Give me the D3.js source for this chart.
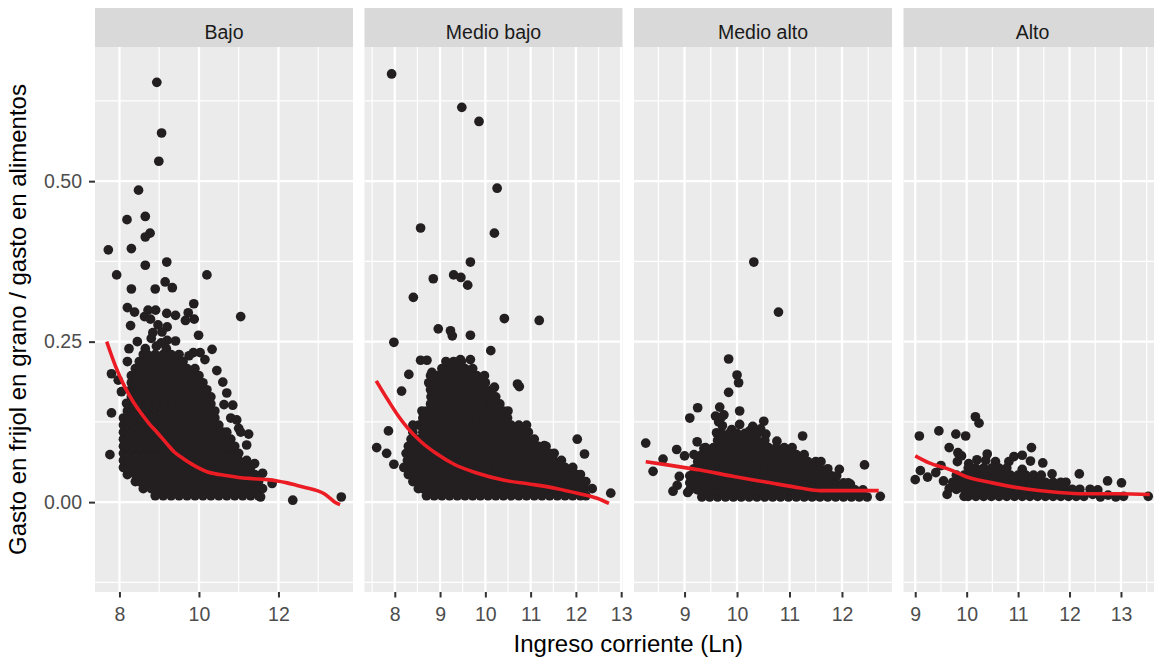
<!DOCTYPE html>
<html>
<head>
<meta charset="utf-8">
<script src="https://cdn.jsdelivr.net/npm/d3@7"></script>
<style>
  body { margin: 0; background: #fff; }
  svg { display: block; font-family: "Liberation Sans", Arial, Helvetica, sans-serif; }
</style>
</head>
<body>
<script>
// facet names
const panelNames = ["Bajo", "Medio bajo", "Medio alto", "Alto"];

// scattered points [ln income, share]
const bajoPts = [[8.94,0.654],[9.06,0.575],[8.99,0.531],[8.48,0.486],[8.19,0.440],[8.65,0.445],[8.77,0.419],[8.65,0.413],
  [7.72,0.393],[8.30,0.395],[8.65,0.369],[9.19,0.374],[7.93,0.354],[10.20,0.354],[8.30,0.332],[8.90,0.332],[9.15,0.343],
  [9.33,0.334],[9.87,0.309],[8.20,0.303],[8.38,0.296],[8.72,0.299],[8.91,0.299],[8.63,0.289],[8.78,0.285],[9.19,0.294],
  [9.41,0.291],[9.73,0.295],[9.66,0.283],[9.88,0.285],[11.05,0.289],[8.28,0.275],[8.97,0.276],[9.20,0.273],[8.84,0.264],
  [9.07,0.265],[9.20,0.252],[9.41,0.251],[9.99,0.260],[10.33,0.238],[9.86,0.233],[10.03,0.233],[8.24,0.239],[8.65,0.239],
  [8.93,0.243],[9.18,0.239],[8.45,0.250],[8.80,0.255],[9.05,0.248],[7.80,0.200],[7.97,0.190],[8.05,0.172],[7.80,0.139],
  [7.76,0.074],[8.18,0.154],[10.60,0.187],[10.63,0.152],[10.80,0.131],[11.00,0.115],[11.25,0.106],[11.84,0.029],
  [12.36,0.003],[13.58,0.008],[11.55,0.008],[11.40,0.060],[11.60,0.045],[10.70,0.170],[10.85,0.151],[10.95,0.128],
  [11.05,0.109],[11.20,0.089],[10.45,0.205],[10.15,0.222],[9.75,0.228]];

// dense core of the cloud, row by row: [share, [ln income ...]]
const bajoRows = [
  [0.010, [8.9,9.1,9.3,9.5,9.7,9.9,10.1,10.3,10.5,10.7,10.9,11.1,11.3,11.5]],
  [0.021, [8.6,8.8,9.0,9.2,9.4,9.6,9.8,10.0,10.2,10.4,10.6,10.8,11.0,11.2,11.4,11.6]],
  [0.032, [8.4,8.5,8.7,8.9,9.1,9.3,9.5,9.7,9.9,10.1,10.3,10.5,10.7,10.9,11.1,11.3,11.5]],
  [0.043, [8.2,8.4,8.6,8.8,9.0,9.2,9.4,9.6,9.8,10.0,10.2,10.4,10.6,10.8,11.0,11.2,11.4]],
  [0.054, [8.1,8.3,8.5,8.7,8.9,9.1,9.3,9.5,9.7,9.9,10.1,10.3,10.5,10.7,10.9,11.1,11.3]],
  [0.065, [8.1,8.2,8.4,8.6,8.8,9.0,9.2,9.4,9.6,9.8,10.0,10.2,10.4,10.6,10.8,11.0,11.2]],
  [0.076, [8.1,8.3,8.5,8.7,8.9,9.1,9.3,9.5,9.7,9.9,10.1,10.3,10.5,10.7,10.9,11.0]],
  [0.087, [8.1,8.2,8.4,8.6,8.8,9.0,9.2,9.4,9.6,9.8,10.0,10.2,10.4,10.6,10.8,10.9]],
  [0.098, [8.1,8.3,8.5,8.7,8.9,9.1,9.3,9.5,9.7,9.9,10.1,10.3,10.5,10.7,10.8]],
  [0.109, [8.1,8.2,8.4,8.6,8.8,9.0,9.2,9.4,9.6,9.8,10.0,10.2,10.4,10.6,10.7]],
  [0.120, [8.1,8.3,8.5,8.7,8.9,9.1,9.3,9.5,9.7,9.9,10.1,10.3,10.5]],
  [0.131, [8.1,8.2,8.4,8.6,8.8,9.0,9.2,9.4,9.6,9.8,10.0,10.2,10.4]],
  [0.142, [8.2,8.3,8.5,8.7,8.9,9.1,9.3,9.5,9.7,9.9,10.1,10.3,10.4]],
  [0.153, [8.2,8.4,8.6,8.8,9.0,9.2,9.4,9.6,9.8,10.0,10.2,10.3]],
  [0.164, [8.3,8.5,8.7,8.9,9.1,9.3,9.5,9.7,9.9,10.1,10.3]],
  [0.175, [8.3,8.4,8.6,8.8,9.0,9.2,9.4,9.6,9.8,10.0,10.2]],
  [0.186, [8.3,8.5,8.7,8.9,9.1,9.3,9.5,9.7,9.9,10.1]],
  [0.197, [8.3,8.4,8.6,8.8,9.0,9.2,9.4,9.6,9.8,10.0]],
  [0.208, [8.4,8.5,8.7,8.9,9.1,9.3,9.5,9.7,9.9]],
  [0.219, [8.2,8.5,8.6,8.8,9.0,9.2,9.4,9.6]],
  [0.230, [8.6,8.7,8.9,9.1,9.3,9.5]]
];

const bajoSmooth = [[7.68,0.250],[7.90,0.212],[8.13,0.180],[8.35,0.156],[8.55,0.138],[8.75,0.122],[8.97,0.107],
  [9.18,0.092],[9.38,0.078],[9.60,0.068],[9.80,0.060],[10.00,0.053],[10.22,0.047],[10.42,0.044],[10.63,0.042],
  [10.85,0.040],[11.05,0.038],[11.27,0.037],[11.47,0.036],[11.72,0.035],[11.97,0.033],[12.22,0.030],[12.47,0.026],
  [12.72,0.022],[12.97,0.018],[13.15,0.013],[13.30,0.006],[13.42,0.000],[13.55,-0.004]];

const medioBajoPts = [[7.93,0.667],[9.48,0.615],[9.86,0.593],[10.26,0.489],[8.57,0.427],[10.20,0.419],[9.67,0.374],
  [8.85,0.348],[9.30,0.354],[9.46,0.350],[9.61,0.338],[8.41,0.319],[10.42,0.286],[11.19,0.283],[8.96,0.270],[9.23,0.267],
  [9.27,0.259],[9.67,0.260],[7.98,0.249],[10.12,0.236],[8.57,0.221],[8.71,0.221],[9.45,0.222],[9.67,0.222],[8.31,0.199],
  [8.82,0.202],[8.15,0.173],[8.60,0.142],[7.86,0.111],[7.60,0.085],[7.82,0.076],[7.98,0.059],[10.20,0.179],[10.71,0.184],
  [10.75,0.180],[12.03,0.098],[12.19,0.075],[12.77,0.014],[11.30,0.088],[11.04,0.093]];

const medioBajoRows = [
  [0.010, [8.70,8.87,9.04,9.21,9.38,9.55,9.72,9.89,10.06,10.23,10.40,10.57,10.74,10.91,11.08,11.25,11.42,11.59,11.76,11.93,12.10,12.22]],
  [0.021, [8.52,8.62,8.79,8.96,9.13,9.30,9.47,9.64,9.81,9.98,10.15,10.32,10.49,10.66,10.83,11.00,11.17,11.34,11.51,11.68,11.85,12.02,12.19,12.36]],
  [0.032, [8.40,8.53,8.70,8.87,9.04,9.21,9.38,9.55,9.72,9.89,10.06,10.23,10.40,10.57,10.74,10.91,11.08,11.25,11.42,11.59,11.76,11.93,12.10,12.22]],
  [0.043, [8.30,8.45,8.62,8.79,8.96,9.13,9.30,9.47,9.64,9.81,9.98,10.15,10.32,10.49,10.66,10.83,11.00,11.17,11.34,11.51,11.68,11.85,12.02,12.10]],
  [0.054, [8.20,8.36,8.53,8.70,8.87,9.04,9.21,9.38,9.55,9.72,9.89,10.06,10.23,10.40,10.57,10.74,10.91,11.08,11.25,11.42,11.59,11.76,11.93]],
  [0.065, [8.28,8.45,8.62,8.79,8.96,9.13,9.30,9.47,9.64,9.81,9.98,10.15,10.32,10.49,10.66,10.83,11.00,11.17,11.34,11.51,11.68]],
  [0.076, [8.25,8.36,8.53,8.70,8.87,9.04,9.21,9.38,9.55,9.72,9.89,10.06,10.23,10.40,10.57,10.74,10.91,11.08,11.25,11.42,11.52]],
  [0.087, [8.30,8.45,8.62,8.79,8.96,9.13,9.30,9.47,9.64,9.81,9.98,10.15,10.32,10.49,10.66,10.83,11.00,11.17,11.34]],
  [0.098, [8.36,8.53,8.70,8.87,9.04,9.21,9.38,9.55,9.72,9.89,10.06,10.23,10.40,10.57,10.74,10.91,11.08]],
  [0.109, [8.40,8.62,8.79,8.96,9.13,9.30,9.47,9.64,9.81,9.98,10.15,10.32,10.49,10.66,10.83,10.95]],
  [0.120, [8.40,8.53,8.70,8.87,9.04,9.21,9.38,9.55,9.72,9.89,10.06,10.23,10.40,10.57,10.74,10.91]],
  [0.131, [8.62,8.79,8.96,9.13,9.30,9.47,9.64,9.81,9.98,10.15,10.32,10.49]],
  [0.142, [8.70,8.87,9.04,9.21,9.38,9.55,9.72,9.89,10.06,10.23,10.40,10.50]],
  [0.153, [8.79,8.96,9.13,9.30,9.47,9.64,9.81,9.98,10.15,10.32]],
  [0.164, [8.80,8.87,9.04,9.21,9.38,9.55,9.72,9.89,10.06,10.23]],
  [0.175, [8.79,8.96,9.13,9.30,9.47,9.64,9.81,9.98,10.15]],
  [0.186, [8.75,8.87,9.04,9.21,9.38,9.55,9.72,9.89,10.00]],
  [0.197, [8.79,8.96,9.13,9.30,9.47,9.64,9.81,9.98]],
  [0.208, [9.04,9.21,9.38,9.55,9.72]],
  [0.219, [9.13,9.30,9.47]]
];

const medioBajoSmooth = [[7.59,0.189],[7.85,0.159],[8.07,0.135],[8.29,0.115],[8.58,0.094],[8.91,0.076],[9.31,0.059],
  [9.83,0.045],[10.42,0.034],[11.00,0.028],[11.59,0.021],[12.03,0.014],[12.47,0.006],[12.73,-0.002]];

const medioAltoPts = [[10.32,0.374],[10.79,0.296],[9.84,0.223],[10.00,0.198],[10.03,0.186],[9.84,0.171],[9.25,0.147],
  [9.10,0.131],[9.67,0.148],[9.59,0.134],[9.75,0.136],[10.05,0.142],[10.51,0.126],[10.05,0.121],[9.72,0.119],[10.24,0.111],
  [9.61,0.108],[8.26,0.092],[8.40,0.048],[8.59,0.067],[8.85,0.082],[9.00,0.072],[8.78,0.017],[8.90,0.040],[8.86,0.026],
  [9.06,0.015],[9.24,0.094],[9.37,0.084],[9.88,0.102],[10.03,0.101],[10.55,0.106],[10.76,0.095],[11.25,0.103],
  [11.95,0.051],[12.43,0.058],[12.73,0.009],[12.16,0.028],[11.72,0.038],[9.65,0.125],[9.70,0.132],[10.30,0.118],
  [10.45,0.114],[9.90,0.113]];

const medioAltoRows = [
  [0.008, [9.33,9.48,9.63,9.78,9.93,10.08,10.23,10.38,10.53,10.68,10.83,10.98,11.13,11.28,11.43,11.58,11.73,11.88,12.03,12.18,12.33,12.48]],
  [0.019, [9.10,9.25,9.40,9.55,9.70,9.85,10.00,10.15,10.30,10.45,10.60,10.75,10.90,11.05,11.20,11.35,11.50,11.65,11.80,11.95,12.10,12.25,12.40]],
  [0.030, [9.10,9.18,9.33,9.48,9.63,9.78,9.93,10.08,10.23,10.38,10.53,10.68,10.83,10.98,11.13,11.28,11.43,11.58,11.73,11.88,12.03,12.12]],
  [0.041, [9.10,9.25,9.40,9.55,9.70,9.85,10.00,10.15,10.30,10.45,10.60,10.75,10.90,11.05,11.20,11.35,11.50,11.65,11.80,11.90]],
  [0.052, [9.18,9.33,9.48,9.63,9.78,9.93,10.08,10.23,10.38,10.53,10.68,10.83,10.98,11.13,11.28,11.43,11.58,11.73]],
  [0.063, [9.25,9.40,9.55,9.70,9.85,10.00,10.15,10.30,10.45,10.60,10.75,10.90,11.05,11.20,11.35,11.50,11.60]],
  [0.074, [9.18,9.33,9.48,9.63,9.78,9.93,10.08,10.23,10.38,10.53,10.68,10.83,10.98,11.13,11.28]],
  [0.085, [9.40,9.55,9.70,9.85,10.00,10.15,10.30,10.45,10.60,10.75,10.90,11.05]],
  [0.096, [9.63,9.78,9.93,10.08,10.23,10.38,10.53]],
  [0.107, [9.70,9.85,10.00,10.15,10.30,10.40]]
];

const medioAltoSmooth = [[8.26,0.063],[8.67,0.058],[9.30,0.050],[9.94,0.040],[10.57,0.031],[11.21,0.022],
  [11.59,0.018],[12.16,0.018],[12.70,0.018]];

const altoPts = [[10.17,0.133],[10.24,0.123],[9.08,0.103],[9.46,0.111],[9.79,0.106],[9.98,0.103],[9.66,0.085],
  [9.83,0.077],[11.26,0.085],[11.48,0.061],[12.19,0.044],[12.74,0.033],[13.01,0.030],[13.53,0.009],[9.00,0.035],
  [9.10,0.049],[9.24,0.039],[9.50,0.057],[9.40,0.046],[9.55,0.033],[9.66,0.021],[9.82,0.063],[10.04,0.060],[10.20,0.066],
  [10.37,0.065],[10.56,0.063],[10.82,0.063],[10.92,0.071],[11.08,0.073],[11.24,0.064],[11.08,0.051],[11.66,0.044],
  [10.75,0.050],[10.62,0.046],[12.45,0.012],[12.60,0.008],[12.75,0.011],[12.90,0.008],[13.05,0.009],[12.40,0.020],
  [12.55,0.019],[9.62,0.012],[9.90,0.072],[10.40,0.075]];

const altoRows = [
  [0.009, [9.95,10.03,10.18,10.33,10.48,10.63,10.78,10.93,11.08,11.23,11.38,11.53,11.68,11.83,11.98,12.13,12.28]],
  [0.020, [9.80,9.95,10.10,10.25,10.40,10.55,10.70,10.85,11.00,11.15,11.30,11.45,11.60,11.75,11.90,12.05,12.20]],
  [0.031, [9.73,9.88,10.03,10.18,10.33,10.48,10.63,10.78,10.93,11.08,11.23,11.38,11.53,11.68,11.83,11.93]],
  [0.042, [9.80,9.95,10.10,10.25,10.40,10.55,10.70,10.85,11.00,11.15,11.30,11.45]],
  [0.053, [10.03,10.18,10.33,10.48,10.63,10.78]]
];

const altoSmooth = [[9.00,0.072],[9.27,0.061],[9.66,0.051],[9.98,0.040],[10.50,0.030],[10.95,0.023],[11.40,0.018],
  [11.79,0.015],[12.30,0.013],[12.95,0.013],[13.56,0.012]];

// axis breaks
const xTickSets = [[8, 10, 12], [8, 9, 10, 11, 12, 13], [9, 10, 11, 12], [9, 10, 11, 12, 13]];
const yTicks = [0, 0.25, 0.5];

const panelPts = [bajoPts, medioBajoPts, medioAltoPts, altoPts];
const panelRows = [bajoRows, medioBajoRows, medioAltoRows, altoRows];
const panelSmooth = [bajoSmooth, medioBajoSmooth, medioAltoSmooth, altoSmooth];

const W = 1154, H = 662;
const panelLeft = 95, panelW = 258, panelGap = 11.5;
const stripTop = 8, panelTop = 47, panelBottom = 592;
const fontTick = 19.5, fontTitle = 24;

const svg = d3.select("body").append("svg")
    .attr("width", W)
    .attr("height", H);

const y = d3.scaleLinear().domain([-0.14, 0.709]).range([panelBottom, panelTop]);

// minor breaks half way between majors, like ggplot does
function minorOf(ticks, domain) {
    let step = ticks[1] - ticks[0];
    let out = [];
    for (let i = -1; i < ticks.length; i++) {
        let m = (i < 0 ? ticks[0] - step / 2 : ticks[i] + step / 2);
        if (m >= domain[0] && m <= domain[1]) out.push(m);
    }
    return out;
}

const yMinor = minorOf(yTicks, y.domain());

panelNames.forEach(function(name, i) {

    let x0 = panelLeft + i * (panelW + panelGap);

    let pts = panelPts[i].slice();
    panelRows[i].forEach(function(r) {
        r[1].forEach(function(xv) { pts.push([xv, r[0]]); });
    });

    let ext = d3.extent(pts.concat(panelSmooth[i]), function(d) { return d[0]; });
    let pad = (ext[1] - ext[0]) * 0.05;
    let x = d3.scaleLinear().domain([ext[0] - pad, ext[1] + pad]).range([x0, x0 + panelW]);

    let g = svg.append("g").attr("class", "panel");

    // strip
    g.append("rect")
        .attr("x", x0).attr("y", stripTop)
        .attr("width", panelW).attr("height", panelTop - stripTop)
        .attr("fill", "#d9d9d9");
    g.append("text")
        .attr("x", x0 + panelW / 2)
        .attr("y", 38.5)
        .attr("text-anchor", "middle")
        .attr("font-size", fontTick)
        .attr("fill", "#1a1a1a")
        .text(name);

    // background
    g.append("rect")
        .attr("x", x0).attr("y", panelTop)
        .attr("width", panelW).attr("height", panelBottom - panelTop)
        .attr("fill", "#ebebeb");

    let clipId = "clip" + i;
    svg.append("clipPath").attr("id", clipId)
        .append("rect")
        .attr("x", x0).attr("y", panelTop)
        .attr("width", panelW).attr("height", panelBottom - panelTop);

    let grid = g.append("g").attr("clip-path", "url(#" + clipId + ")");
    let xMinor = minorOf(xTickSets[i], x.domain());

    grid.selectAll(".ymin").data(yMinor).enter().append("line")
        .attr("x1", x0).attr("x2", x0 + panelW)
        .attr("y1", function(d) { return y(d); }).attr("y2", function(d) { return y(d); })
        .attr("stroke", "#fff").attr("stroke-width", 1.2);
    grid.selectAll(".xmin").data(xMinor).enter().append("line")
        .attr("y1", panelTop).attr("y2", panelBottom)
        .attr("x1", function(d) { return x(d); }).attr("x2", function(d) { return x(d); })
        .attr("stroke", "#fff").attr("stroke-width", 1.2);
    grid.selectAll(".ymaj").data(yTicks).enter().append("line")
        .attr("x1", x0).attr("x2", x0 + panelW)
        .attr("y1", function(d) { return y(d); }).attr("y2", function(d) { return y(d); })
        .attr("stroke", "#fff").attr("stroke-width", 2.3);
    grid.selectAll(".xmaj").data(xTickSets[i]).enter().append("line")
        .attr("y1", panelTop).attr("y2", panelBottom)
        .attr("x1", function(d) { return x(d); }).attr("x2", function(d) { return x(d); })
        .attr("stroke", "#fff").attr("stroke-width", 2.3);

    // points
    grid.selectAll("circle").data(pts).enter().append("circle")
        .attr("cx", function(d) { return x(d[0]); })
        .attr("cy", function(d) { return y(d[1]); })
        .attr("r", 4.85)
        .attr("fill", "#231f20");

    // loess curve
    let line = d3.line()
        .x(function(d) { return x(d[0]); })
        .y(function(d) { return y(d[1]); })
        .curve(d3.curveMonotoneX);

    grid.append("path")
        .datum(panelSmooth[i])
        .attr("d", line)
        .attr("fill", "none")
        .attr("stroke", "#ec1c24")
        .attr("stroke-width", 3.6);

    // x axis
    let ax = svg.append("g")
        .attr("transform", "translate(0," + panelBottom + ")")
        .call(d3.axisBottom(x).tickValues(xTickSets[i]).tickSize(5.5).tickPadding(10).tickFormat(d3.format("d")));
    ax.select(".domain").remove();
    ax.selectAll("line").attr("stroke", "#333").attr("stroke-width", 2);
    ax.selectAll("text")
        .attr("font-size", fontTick)
        .attr("font-family", "Liberation Sans, Arial, sans-serif")
        .attr("fill", "#4d4d4d");
});

// y axis on the first panel
let ay = svg.append("g")
    .attr("transform", "translate(" + panelLeft + ",0)")
    .call(d3.axisLeft(y).tickValues(yTicks).tickSize(6).tickPadding(7).tickFormat(d3.format(".2f")));
ay.select(".domain").remove();
ay.selectAll("line").attr("stroke", "#333").attr("stroke-width", 2);
ay.selectAll("text")
    .attr("font-size", fontTick)
    .attr("font-family", "Liberation Sans, Arial, sans-serif")
    .attr("fill", "#4d4d4d");

// titles
svg.append("text")
    .attr("x", (panelLeft + panelLeft + 4 * panelW + 3 * panelGap) / 2)
    .attr("y", 652)
    .attr("text-anchor", "middle")
    .attr("font-size", fontTitle)
    .attr("fill", "#000")
    .text("Ingreso corriente (Ln)");

svg.append("text")
    .attr("transform", "translate(26," + ((panelTop + panelBottom) / 2) + ") rotate(-90)")
    .attr("text-anchor", "middle")
    .attr("font-size", fontTitle)
    .attr("fill", "#000")
    .text("Gasto en frijol en grano / gasto en alimentos");
</script>
</body>
</html>
